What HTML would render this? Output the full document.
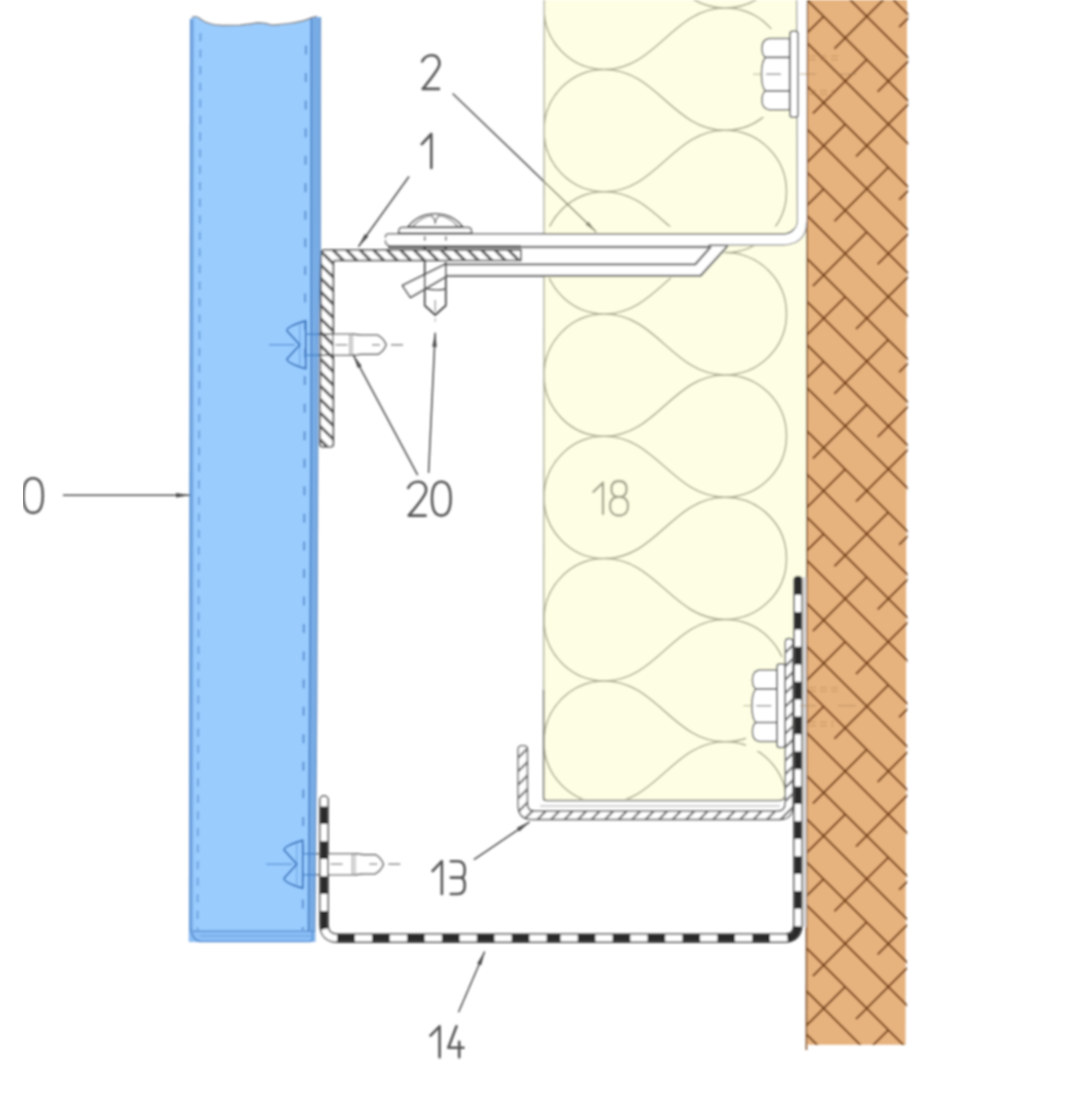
<!DOCTYPE html>
<html><head><meta charset="utf-8"><title>Detail</title>
<style>html,body{margin:0;padding:0;background:#fff;font-family:"Liberation Sans",sans-serif;}
svg{display:block}</style></head>
<body>
<svg width="1066" height="1097" viewBox="0 0 1066 1097">
<defs><filter id="soft" x="0" y="0" width="100%" height="100%"><feGaussianBlur stdDeviation="0.8"/></filter></defs>
<rect width="1066" height="1097" fill="#ffffff"/>
<g id="drawing" filter="url(#soft)">
<rect x="544" y="0" width="263" height="800.5" fill="#fefee4"/>
<path d="M544.3 0 L543.6 800.5" stroke="#9a9a88" stroke-width="1.2" fill="none"/>
<clipPath id="insclip"><path clip-rule="evenodd" d="M544 0 H798 V799 H544 Z M544 226.5 H798 V246 H730 L702 278 H544 Z M757 29 H798 V117 H757 Z M746 657 H798 V751 H746 Z"/></clipPath>
<path clip-path="url(#insclip)" d="M725.0 -114.3 C759.0 -114.3 786.5 -86.9 786.5 -53.1 C786.5 -19.4 759.0 8.0 725.0 8.0 C673.0 8.0 656.5 69.4 604.5 69.4 C571.1 69.4 544.0 42.0 544.0 8.3 C544.0 -25.5 571.1 -52.9 604.5 -52.9 C656.5 -52.9 673.0 8.0 725.0 8.0 M725.0 8.0 C759.0 8.0 786.5 35.4 786.5 69.2 C786.5 102.9 759.0 130.3 725.0 130.3 C673.0 130.3 656.5 191.7 604.5 191.7 C571.1 191.7 544.0 164.3 544.0 130.6 C544.0 96.8 571.1 69.4 604.5 69.4 C656.5 69.4 673.0 130.3 725.0 130.3 M725.0 130.3 C759.0 130.3 786.5 157.7 786.5 191.5 C786.5 225.2 759.0 252.6 725.0 252.6 C673.0 252.6 656.5 314.0 604.5 314.0 C571.1 314.0 544.0 286.6 544.0 252.8 C544.0 219.1 571.1 191.7 604.5 191.7 C656.5 191.7 673.0 252.6 725.0 252.6 M725.0 252.6 C759.0 252.6 786.5 280.0 786.5 313.8 C786.5 347.5 759.0 374.9 725.0 374.9 C673.0 374.9 656.5 436.3 604.5 436.3 C571.1 436.3 544.0 408.9 544.0 375.1 C544.0 341.4 571.1 314.0 604.5 314.0 C656.5 314.0 673.0 374.9 725.0 374.9 M725.0 374.9 C759.0 374.9 786.5 402.3 786.5 436.0 C786.5 469.8 759.0 497.2 725.0 497.2 C673.0 497.2 656.5 558.6 604.5 558.6 C571.1 558.6 544.0 531.2 544.0 497.5 C544.0 463.7 571.1 436.3 604.5 436.3 C656.5 436.3 673.0 497.2 725.0 497.2 M725.0 497.2 C759.0 497.2 786.5 524.6 786.5 558.4 C786.5 592.1 759.0 619.5 725.0 619.5 C673.0 619.5 656.5 680.9 604.5 680.9 C571.1 680.9 544.0 653.5 544.0 619.8 C544.0 586.0 571.1 558.6 604.5 558.6 C656.5 558.6 673.0 619.5 725.0 619.5 M725.0 619.5 C759.0 619.5 786.5 646.9 786.5 680.6 C786.5 714.4 759.0 741.8 725.0 741.8 C673.0 741.8 656.5 803.2 604.5 803.2 C571.1 803.2 544.0 775.8 544.0 742.0 C544.0 708.3 571.1 680.9 604.5 680.9 C656.5 680.9 673.0 741.8 725.0 741.8 M725.0 741.8 C759.0 741.8 786.5 769.2 786.5 803.0 C786.5 836.7 759.0 864.1 725.0 864.1 C673.0 864.1 656.5 925.5 604.5 925.5 C571.1 925.5 544.0 898.1 544.0 864.4 C544.0 830.6 571.1 803.2 604.5 803.2 C656.5 803.2 673.0 864.1 725.0 864.1 M725.0 864.1 C759.0 864.1 786.5 891.5 786.5 925.2 C786.5 959.0 759.0 986.4 725.0 986.4 C673.0 986.4 656.5 1047.8 604.5 1047.8 C571.1 1047.8 544.0 1020.4 544.0 986.6 C544.0 952.9 571.1 925.5 604.5 925.5 C656.5 925.5 673.0 986.4 725.0 986.4" fill="none" stroke="#a9a98e" stroke-width="1.5"/>
<path d="M807.2 0 L907 0 L905.5 1044.8 L806.4 1044.8 Z" fill="#e6b27e"/>
<clipPath id="wallclip"><path d="M807.2 0 L908.3 0 L906.8 1044.8 L806.4 1044.8 Z"/></clipPath>
<path clip-path="url(#wallclip)" d="M761.5 -261.5L2211.5 1188.5M739.9 -239.9L2189.9 1210.1M718.3 -218.3L2168.3 1231.7M696.8 -196.8L2146.8 1253.2M675.2 -175.2L2125.2 1274.8M653.6 -153.7L2103.7 1296.3M632.1 -132.1L2082.1 1317.9M610.5 -110.5L2060.5 1339.5M589.0 -89.0L2039.0 1361.0M567.4 -67.4L2017.4 1382.6M545.8 -45.8L1995.8 1404.2M524.3 -24.3L1974.3 1425.7M502.7 -2.7L1952.7 1447.3M481.1 18.9L1931.1 1468.9M459.6 40.4L1909.6 1490.4M438.0 62.0L1888.0 1512.0M416.4 83.6L1866.4 1533.6M394.9 105.1L1844.9 1555.1M373.3 126.7L1823.3 1576.7M351.7 148.3L1801.7 1598.3M330.2 169.8L1780.2 1619.8M308.6 191.4L1758.6 1641.4M287.0 213.0L1737.0 1663.0M265.5 234.5L1715.5 1684.5M243.9 256.1L1693.9 1706.1M222.3 277.7L1672.3 1727.7M200.8 299.2L1650.8 1749.2M179.2 320.8L1629.2 1770.8M157.7 342.3L1607.7 1792.3M136.1 363.9L1586.1 1813.9M114.5 385.5L1564.5 1835.5M93.0 407.0L1543.0 1857.0M71.4 428.6L1521.4 1878.6M49.8 450.2L1499.8 1900.2M28.3 471.7L1478.3 1921.7M953.0 -26.8L899.1 27.1M845.2 -48.3L791.3 5.6M888.3 -5.2L834.4 48.7M931.5 37.9L877.6 91.8M823.6 16.4L769.7 70.3M866.8 59.5L812.9 113.4M909.9 102.6L856.0 156.5M953.0 145.7L899.1 199.7M802.1 81.0L748.2 135.0M845.2 124.2L791.3 178.1M888.3 167.3L834.4 221.2M931.5 210.4L877.6 264.3M823.6 188.9L769.7 242.8M866.8 232.0L812.9 285.9M909.9 275.1L856.0 329.0M953.0 318.3L899.1 372.2M802.1 253.6L748.2 307.5M845.2 296.7L791.3 350.6M888.3 339.8L834.4 393.7M931.5 383.0L877.6 436.9M823.6 361.4L769.7 415.3M866.8 404.5L812.9 458.4M909.9 447.7L856.0 501.6M953.0 490.8L899.1 544.7M802.1 426.1L748.2 480.0M845.2 469.2L791.3 523.1M888.3 512.3L834.4 566.3M931.5 555.5L877.6 609.4M823.6 533.9L769.7 587.8M866.8 577.0L812.9 631.0M909.9 620.2L856.0 674.1M953.0 663.3L899.1 717.2M802.1 598.6L748.2 652.5M845.2 641.7L791.3 695.6M888.3 684.9L834.4 738.8M931.5 728.0L877.6 781.9M823.6 706.4L769.7 760.3M866.8 749.6L812.9 803.5M909.9 792.7L856.0 846.6M953.0 835.8L899.1 889.7M802.1 771.1L748.2 825.0M845.2 814.3L791.3 868.2M888.3 857.4L834.4 911.3M931.5 900.5L877.6 954.4M823.6 879.0L769.7 932.9M866.8 922.1L812.9 976.0M909.9 965.2L856.0 1019.1M953.0 1008.3L899.1 1062.3M802.1 943.6L748.2 997.6M845.2 986.8L791.3 1040.7M888.3 1029.9L834.4 1083.8" stroke="#6f380c" stroke-width="2.1" fill="none" opacity="0.9"/>
<path d="M807.3 0 L806.4 1050" stroke="#7a4a20" stroke-width="1.6" fill="none"/>
<path d="M797.4 -2 L797.4 220 Q797.4 234 783 234 L389 234 Q385 234 385 238 L385 241 Q385 245 389 245 L781 245 Q806.5 245 806.5 222 L806.5 -2 Z" fill="#ffffff"/>
<path d="M709 245 L781 245 Q806.5 245 806.5 222" fill="none" stroke="#9a9a9a" stroke-width="1.3"/>
<path d="M385.5 238 Q385 234 389 234 L783 234 Q790 234 794 229" fill="none" stroke="#666" stroke-width="1.5"/>
<path d="M794 229 Q797.4 226 797.4 220 L796.6 0" fill="none" stroke="#8a8a8a" stroke-width="1.2"/>
<path d="M385.5 240 Q385 245 389 245" fill="none" stroke="#666" stroke-width="1.5"/>
<path d="M446 245 L727 245 L700.5 276.5 L446 276.5 Z" fill="#ffffff"/>
<path d="M388 246.8 L521 246.8" stroke="#666" stroke-width="3.4" fill="none"/>
<path d="M521 247 L710 247" stroke="#757575" stroke-width="2.6" fill="none"/>
<path d="M446 264.4 L695.3 264.4 L711 246.5" stroke="#707070" stroke-width="2.4" fill="none" stroke-linejoin="miter"/>
<path d="M446 275.8 L700.5 275.8 L727.6 246" stroke="#707070" stroke-width="2.2" fill="none" stroke-linejoin="miter"/>
<path d="M708 245.4 L728 245.4" stroke="#7a7a7a" stroke-width="1.6" fill="none"/>
<pattern id="h1" width="13.5" height="13.5" patternUnits="userSpaceOnUse" patternTransform="translate(2 0)">
<path d="M-3 -3 L16.5 16.5 M-3 10.5 L3 16.5 M10.5 -3 L16.5 3" stroke="#484848" stroke-width="2.7"/></pattern>
<path d="M324.5 250 L521 250 L521 260.5 L335.5 260.5 Q333.3 260.5 333.3 263 L333.3 444 Q333.3 446.8 330.5 446.8 L322.5 446.8 Q320 446.8 320 444 L321 254 Q321 250 324.5 250 Z" fill="#ffffff"/>
<path d="M324.5 250 L521 250 L521 260.5 L335.5 260.5 Q333.3 260.5 333.3 263 L333.3 444 Q333.3 446.8 330.5 446.8 L322.5 446.8 Q320 446.8 320 444 L321 254 Q321 250 324.5 250 Z" fill="url(#h1)" stroke="#3f3f3f" stroke-width="1.6"/>
<path d="M408 227 Q418 214 435.2 214 Q452.5 214 462.7 227 Z" fill="#fff" stroke="#4a4a4a" stroke-width="1.5"/>
<path d="M413 226 Q423 216 432 216 Q435 219 435.2 224 Q435.5 219 438.5 216 Q448 216 457.5 226" fill="none" stroke="#666" stroke-width="1.2"/>
<path d="M402 227.4 L468.5 227.4 Q471.7 227.4 471.7 233.3 L398.6 233.3 Q398.6 227.4 402 227.4 Z" fill="#fff" stroke="#4a4a4a" stroke-width="1.5"/>
<path d="M424.7 236.5 L424.7 240.5 M445.8 236.5 L445.8 240.5" stroke="#555" stroke-width="1.6"/>
<path d="M424.7 246 L424.7 250 M445.8 246 L445.8 250" stroke="#444" stroke-width="2.2"/>
<path d="M445.3 264.2 L402.5 285.6 L410.4 297.4 L445.3 277.1" fill="#fff" stroke="#444" stroke-width="1.7" stroke-linejoin="round"/>
<path d="M424.7 261 L424.7 305.5 L435.2 315 L445.8 305.5 L445.8 261 Z" fill="#fff" fill-opacity="0.0"/>
<path d="M424.7 261 L424.7 305.5 L435.2 315 L445.8 305.5 L445.8 262" fill="none" stroke="#444" stroke-width="1.7" stroke-linejoin="round"/>
<path d="M426 288.5 Q435 291 445.5 289" fill="none" stroke="#555" stroke-width="1.3"/>
<path d="M435.2 300 L435.2 312" stroke="#aaa" stroke-width="1.5"/>
<path d="M435.2 318 L435.2 322" stroke="#bbb" stroke-width="1.2"/>
<path d="M190.3 19.5 L192 17.5 Q196 15.5 199 18 Q207 25 222 25.5 L240 25.3 Q252 24 258 22.8 Q266 23 272 25.2 Q282 24.6 290 23.4 Q300 22 306 20 Q312 17 317 16.5 L320.5 17.5 L320.3 250 L318.2 345 L316.8 700 L314.8 942 L189.3 942 Z" fill="#9accfe"/>
<path d="M190.3 19 L194.2 19 L193.2 940 L189.3 942 Z" fill="#7db1e9"/>
<path d="M191 19 L190 942" stroke="#6498d6" stroke-width="2.2"/>
<path d="M311 18 L320.5 17.5 L320.3 250 L318.2 345 L316.8 700 L314.8 942 L308.2 942 L308.4 931 L311 440 Z" fill="#78ace5"/>
<path d="M311.2 18 L311 440 L308.4 932" fill="none" stroke="#4f88cb" stroke-width="1.8"/>
<path d="M320.2 17.5 320.5 17.5 L320.3 250 L318.2 345 L316.8 700 L314.8 942" fill="none" stroke="#6f95c4" stroke-width="1.2"/>
<path d="M200.4 33 L197.5 930" fill="none" stroke="#6ea2de" stroke-width="2" stroke-dasharray="8.3 8.26"/>
<path d="M306 45.5 L302.8 930" fill="none" stroke="#5f93d2" stroke-width="2.1" stroke-dasharray="9 18.55"/>
<path d="M189.5 931 L315 931 L314.8 942 L189.3 942 Z" fill="#8cbff6"/>
<path d="M193 931.2 L315 931.2" stroke="#5a91d3" stroke-width="1.6"/>
<path d="M200 935.8 L311 935.8" stroke="#6fa3df" stroke-width="1.3"/>
<path d="M191 930 Q193 941.5 202 941.5 L309.5 941.5 Q312.5 941.5 312.5 938.5 L312.5 932" fill="none" stroke="#5a91d3" stroke-width="1.6"/>
<path d="M192 17.5 Q196 15.5 199 18 Q207 25 222 25.5 L240 25.3 Q252 24 258 22.8 Q266 23 272 25.2 Q282 24.6 290 23.4 Q300 22 306 20 Q312 17 317 16.5" fill="none" stroke="#8a8a8a" stroke-width="1.4"/>
<path d="M305.8 320.8 Q286 326.8 287 330.8 L299.8 344.8 L287 358.8 Q286 362.8 305.8 368.8 Z" fill="none" stroke="#3f7cc4" stroke-width="2" stroke-linejoin="round"/>
<path d="M299.8 324.8 L299.8 364.8" stroke="#3f7cc4" stroke-width="1" opacity="0.6"/>
<path d="M306.8 334.3 L320.5 334.3 M306.8 355.3 L320.5 355.3" stroke="#3f7cc4" stroke-width="1.5" opacity="0.8"/>
<path d="M269 344.8 L295 344.8" stroke="#3f7cc4" stroke-width="1.2" opacity="0.8"/>
<path d="M333.5 334.3 L353 334.3 L353 355.3 L333.5 355.3" fill="#fff" stroke="#777" stroke-width="1.6"/>
<path d="M350 334.3 L350 355.3 M357 335.8 L357 353.8" stroke="#888" stroke-width="1.2"/>
<path d="M353 334.3 L361 335.3 L378 335.3 Q384 338.8 386 344.8 Q384 350.8 378 354.3 L361 354.3 L353 355.3" fill="#fff" stroke="#555" stroke-width="1.5" stroke-linejoin="round"/>
<path d="M335.5 344.8 L347.5 344.8 M372 344.8 L380 344.8 M391 344.8 L403 344.8" stroke="#777" stroke-width="1.2"/>
<path d="M302.8 840.2 Q283.2 846.2 284.2 850.2 L296.8 864.2 L284.2 878.2 Q283.2 882.2 302.8 888.2 Z" fill="none" stroke="#3f7cc4" stroke-width="2" stroke-linejoin="round"/>
<path d="M296.8 844.2 L296.8 884.2" stroke="#3f7cc4" stroke-width="1" opacity="0.6"/>
<path d="M303.8 853.7 L315.6 853.7 M303.8 874.7 L315.6 874.7" stroke="#3f7cc4" stroke-width="1.5" opacity="0.8"/>
<path d="M266.2 864.2 L292.2 864.2" stroke="#3f7cc4" stroke-width="1.2" opacity="0.8"/>
<path d="M328.6 853.7 L355.4 853.7 L355.4 874.7 L328.6 874.7" fill="#fff" stroke="#777" stroke-width="1.6"/>
<path d="M352.4 853.7 L352.4 874.7 M359.4 855.2 L359.4 873.2" stroke="#888" stroke-width="1.2"/>
<path d="M355.4 853.7 L363.4 854.7 L375.3 854.7 Q381.3 858.2 383.3 864.2 Q381.3 870.2 375.3 873.7 L363.4 873.7 L355.4 874.7" fill="#fff" stroke="#555" stroke-width="1.5" stroke-linejoin="round"/>
<path d="M330.6 864.2 L342.6 864.2 M369.3 864.2 L377.3 864.2 M388.3 864.2 L400.3 864.2" stroke="#777" stroke-width="1.2"/>
<rect x="320.2" y="853.2" width="7.6" height="22" fill="#fff"/>
<path d="M316 853.7 L329 853.7 M316 874.7 L329 874.7" stroke="#777" stroke-width="1.5"/>
<path d="M319 334.3 L334 334.3 M319 355.3 L334 355.3" stroke="#444" stroke-width="1.6"/>
<pattern id="h2" width="13.5" height="13.5" patternUnits="userSpaceOnUse" patternTransform="translate(4 3)">
<path d="M-3 16.5 L16.5 -3 M-3 3 L3 -3 M10.5 16.5 L16.5 10.5" stroke="#6a6a6a" stroke-width="2.2"/></pattern>
<path d="M518.2 749 Q518.2 745.6 522.8 745.6 Q527.4 745.6 527.4 749 L527.4 804 Q527.4 811.3 535 811.3 L777 811.3 Q785.3 811.3 785.3 803 L785.3 642 Q785.3 638.5 789 638.5 Q792.9 638.5 792.9 642 L792.9 806 Q792.9 819.5 780 819.5 L533 819.5 Q518.2 819.5 518.2 806 Z" fill="#fff"/>
<path d="M518.2 749 Q518.2 745.6 522.8 745.6 Q527.4 745.6 527.4 749 L527.4 804 Q527.4 811.3 535 811.3 L777 811.3 Q785.3 811.3 785.3 803 L785.3 642 Q785.3 638.5 789 638.5 Q792.9 638.5 792.9 642 L792.9 806 Q792.9 819.5 780 819.5 L533 819.5 Q518.2 819.5 518.2 806 Z" fill="url(#h2)" stroke="#555" stroke-width="1.4"/>
<path d="M543.6 690 L543.6 797 Q543.6 800.5 547 800.5 L778 800.5 Q784 800.5 785 796" fill="none" stroke="#777" stroke-width="1.6"/>
<path d="M540 806 L780 806" fill="none" stroke="#aaa" stroke-width="1.2"/>
<path d="M324 800 L324 924 Q324 938.3 338 938.3 L784 938.3 Q798 938.3 798 924 L798 580.5" fill="none" stroke="#3c3c3c" stroke-width="9.6" stroke-linecap="round"/>
<path d="M324 800 L324 924 Q324 938.3 338 938.3 L784 938.3 Q798 938.3 798 924 L798 580.5" fill="none" stroke="#fff" stroke-width="6.6" stroke-linecap="round"/>
<path d="M324 800 L324 924 Q324 938.3 338 938.3 L560 938.3" fill="none" stroke="#2b2b2b" stroke-width="7" stroke-dasharray="17.7 17.2" stroke-dashoffset="28.5"/>
<path d="M798 577 L798 924 Q798 938.3 784 938.3 L560 938.3" fill="none" stroke="#2b2b2b" stroke-width="7" stroke-dasharray="17.7 17.2" stroke-dashoffset="0"/>
<rect x="802.6" y="577" width="4" height="350" fill="#d8d8d8"/>
<rect x="790" y="31.200000000000003" width="8" height="86" rx="2.5" fill="#fff" stroke="#5a5a5a" stroke-width="1.5"/>
<path d="M789.6 38.6 L769 38.6 Q762 39.6 762 48.034000000000006 Q762 55.468 765.5 57.468 Q761.5 61.468 761.5 74.2 Q761.5 86.932 765.5 90.932 Q762 92.932 762 100.366 Q762 108.80000000000001 769 109.80000000000001 L789.6 109.80000000000001 Z" fill="#fff" stroke="#666" stroke-width="1.5" stroke-linejoin="round"/>
<path d="M765.5 57.468 L789.6 57.468 M765.5 90.932 L789.6 90.932" stroke="#555" stroke-width="1.7"/>
<path d="M753 74.2 L763 74.2" stroke="#b5b59c" stroke-width="1.1"/>
<path d="M766 74.2 L781 74.2" stroke="#8a8a8a" stroke-width="1.4"/>
<path d="M809 56.2 L838 56.2 M809 59.7 L838 59.7 M809 90.7 L834 90.7 M809 94.2 L834 94.2" stroke="#b98552" stroke-width="1.3" stroke-dasharray="7 4" opacity="0.55"/>
<path d="M800 74.2 L816 74.2 M838 74.2 L856 74.2" stroke="#a9875f" stroke-width="1.2" opacity="0.6"/>
<rect x="777" y="663.9000000000001" width="8" height="83.6" rx="2.5" fill="#fff" stroke="#5a5a5a" stroke-width="1.5"/>
<path d="M776.8 670.0 L759.4 670.0 Q752.4 671.0 752.4 679.4605 Q752.4 686.921 755.9 688.921 Q751.9 692.921 751.9 705.7 Q751.9 718.479 755.9 722.479 Q752.4 724.479 752.4 731.9395000000001 Q752.4 740.4000000000001 759.4 741.4000000000001 L776.8 741.4000000000001 Z" fill="#fff" stroke="#666" stroke-width="1.5" stroke-linejoin="round"/>
<path d="M755.9 688.921 L776.8 688.921 M755.9 722.479 L776.8 722.479" stroke="#555" stroke-width="1.7"/>
<path d="M743.4 705.7 L753.4 705.7" stroke="#b5b59c" stroke-width="1.1"/>
<path d="M756.4 705.7 L771.4 705.7" stroke="#8a8a8a" stroke-width="1.4"/>
<path d="M809 687.7 L838 687.7 M809 691.2 L838 691.2 M809 722.2 L834 722.2 M809 725.7 L834 725.7" stroke="#b98552" stroke-width="1.3" stroke-dasharray="7 4" opacity="0.55"/>
<path d="M800 705.7 L816 705.7 M838 705.7 L856 705.7" stroke="#a9875f" stroke-width="1.2" opacity="0.6"/>
<path d="M33.0 478.3 C26.8 478.3 23.3 484.5 23.3 495.6 C23.3 506.7 26.8 512.9 33.0 512.9 C39.3 512.9 42.8 506.7 42.8 495.6 C42.8 484.5 39.3 478.3 33.0 478.3Z" fill="none" stroke="#555" stroke-width="2.6" stroke-linecap="round" stroke-linejoin="round"/>
<path d="M422.2 61.3 C425.4 55.3 429.0 55.3 431.7 55.3 C437.1 55.3 439.8 59.3 439.4 64.4 C438.9 69.4 430.8 78.8 422.7 88.9 L438.9 88.9" fill="none" stroke="#555" stroke-width="2.6" stroke-linecap="round" stroke-linejoin="round"/>
<path d="M421.8 144.2 L431.3 134.0 L431.3 168.0" fill="none" stroke="#555" stroke-width="2.6" stroke-linecap="round" stroke-linejoin="round"/>
<path d="M408.2 487.9 C411.5 481.8 415.3 481.8 418.1 481.8 C423.7 481.8 426.5 485.9 426.1 490.9 C425.6 496.0 417.2 505.5 408.7 515.6 L425.6 515.6 M441.3 481.8 C435.3 481.8 432.0 487.9 432.0 498.7 C432.0 509.5 435.3 515.6 441.3 515.6 C447.3 515.6 450.6 509.5 450.6 498.7 C450.6 487.9 447.3 481.8 441.3 481.8Z" fill="none" stroke="#555" stroke-width="2.6" stroke-linecap="round" stroke-linejoin="round"/>
<path d="M432.6 871.0 L441.9 861.2 L441.9 894.0 M450.8 861.2 L457.6 861.2 C462.7 861.2 464.8 864.5 464.8 869.4 C464.8 874.3 463.4 877.6 460.5 877.6 L450.8 877.6 M460.5 877.6 C463.4 877.6 464.8 880.9 464.8 885.8 C464.8 890.7 462.7 894.0 457.6 894.0 L450.8 894.0" fill="none" stroke="#555" stroke-width="2.6" stroke-linecap="round" stroke-linejoin="round"/>
<path d="M430.5 1035.6 L439.6 1026.3 L439.6 1057.3 M456.5 1026.3 L448.3 1047.7 L463.5 1047.7 M459.2 1041.8 L459.2 1057.3" fill="none" stroke="#555" stroke-width="2.6" stroke-linecap="round" stroke-linejoin="round"/>
<path d="M593.4 491.9 L603.0 482.5 L603.0 514.0 M619.0 496.9 C612.7 496.9 611.4 493.1 611.4 488.9 C611.4 484.4 613.6 481.0 619.0 481.0 C624.4 481.0 626.6 484.4 626.6 488.9 C626.6 493.1 625.3 496.9 619.0 496.9 C611.8 496.9 610.0 501.7 610.0 506.2 C610.0 511.4 612.7 515.5 619.0 515.5 C625.3 515.5 628.0 511.4 628.0 506.2 C628.0 501.7 626.2 496.9 619.0 496.9Z" fill="none" stroke="#a3a38e" stroke-width="2.3" stroke-linecap="round" stroke-linejoin="round"/>
<path d="M63.0 495.3 L190.0 495.3" stroke="#4a4a4a" stroke-width="1.5" fill="none"/>
<path d="M190.0 495.3 L176.0 497.5 L176.0 493.1 Z" fill="#4a4a4a"/>
<path d="M409.0 176.5 L358.4 246.7" stroke="#4a4a4a" stroke-width="1.5" fill="none"/>
<path d="M358.4 246.7 L364.8 234.1 L368.4 236.6 Z" fill="#4a4a4a"/>
<path d="M452.6 93.5 L544 181.5" stroke="#555" stroke-width="1.6" fill="none"/>
<path d="M544.0 181.5 L596.3 232.0" stroke="#85856e" stroke-width="1.5" fill="none"/>
<path d="M596.3 232.0 L585.4 224.6 L588.5 221.4 Z" fill="#85856e"/>
<path d="M417.7 475.1 L353.1 354.7" stroke="#4a4a4a" stroke-width="1.5" fill="none"/>
<path d="M353.1 354.7 L361.7 366.0 L357.8 368.1 Z" fill="#4a4a4a"/>
<path d="M428.6 472.9 L435.2 332.8" stroke="#4a4a4a" stroke-width="1.5" fill="none"/>
<path d="M435.2 332.8 L436.7 346.9 L432.3 346.7 Z" fill="#4a4a4a"/>
<path d="M473.9 859.6 L529.7 821.8" stroke="#4a4a4a" stroke-width="1.5" fill="none"/>
<path d="M529.7 821.8 L519.3 831.5 L516.9 827.8 Z" fill="#4a4a4a"/>
<path d="M458.5 1012.3 L484.7 951.5" stroke="#4a4a4a" stroke-width="1.5" fill="none"/>
<path d="M484.7 951.5 L481.2 965.2 L477.1 963.5 Z" fill="#4a4a4a"/>
</g>
</svg>
</body></html>
